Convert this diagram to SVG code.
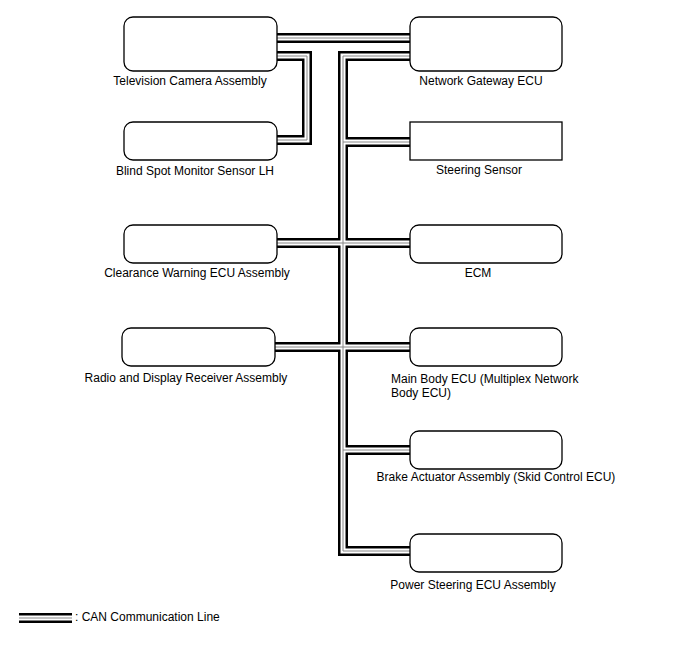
<svg xmlns="http://www.w3.org/2000/svg" width="688" height="658" viewBox="0 0 688 658">
<style>
.box{fill:#fff;stroke:#000;stroke-width:1.3}
.lbl{font-family:"Liberation Sans",Arial,sans-serif;font-size:12px;fill:#000}
.c1{fill:none;stroke:#000;stroke-width:10;stroke-linejoin:miter}
.c2{fill:none;stroke:#fff;stroke-width:5;stroke-linejoin:miter}
.c3{fill:none;stroke:#888;stroke-width:1;stroke-linejoin:miter}
</style>
<defs>
<g id="cables">
<path d="M277 38H410"/>
<path d="M277 56H307V140H277"/>
<path d="M410 56H343V551H410"/>
<path d="M343 142H410"/>
<path d="M277 243H410"/>
<path d="M275 347H410"/>
<path d="M343 450H410"/>
</g>
</defs>
<g id="connectors">
<use href="#cables" class="c1"/>
<use href="#cables" class="c2"/>
<use href="#cables" class="c3"/>
</g>
<g id="tv"><rect class="box" x="124" y="17" width="153" height="54" rx="9"/><text class="lbl" x="190" y="85" text-anchor="middle">Television Camera Assembly</text></g>
<g id="bsm"><rect class="box" x="124" y="122" width="153" height="38" rx="9"/><text class="lbl" x="195" y="175" text-anchor="middle">Blind Spot Monitor Sensor LH</text></g>
<g id="cw"><rect class="box" x="124" y="225" width="153" height="38" rx="9"/><text class="lbl" x="197" y="277" text-anchor="middle">Clearance Warning ECU Assembly</text></g>
<g id="radio"><rect class="box" x="122" y="328" width="153" height="38" rx="9"/><text class="lbl" x="186" y="382" text-anchor="middle">Radio and Display Receiver Assembly</text></g>
<g id="ngw"><rect class="box" x="410" y="17" width="152" height="54" rx="9"/><text class="lbl" x="481" y="85" text-anchor="middle">Network Gateway ECU</text></g>
<g id="ss"><rect class="box" x="410" y="122" width="152" height="38"/><text class="lbl" x="479" y="174" text-anchor="middle">Steering Sensor</text></g>
<g id="ecm"><rect class="box" x="410" y="225" width="152" height="38" rx="9"/><text class="lbl" x="478" y="277" text-anchor="middle">ECM</text></g>
<g id="mb"><rect class="box" x="410" y="328" width="152" height="38" rx="9"/><text class="lbl" x="391" y="383">Main Body ECU (Multiplex Network</text><text class="lbl" x="391" y="397">Body ECU)</text></g>
<g id="brake"><rect class="box" x="410" y="431" width="152" height="38" rx="9"/><text class="lbl" x="496" y="481" text-anchor="middle">Brake Actuator Assembly (Skid Control ECU)</text></g>
<g id="ps"><rect class="box" x="410" y="534" width="152" height="38" rx="9"/><text class="lbl" x="473" y="589" text-anchor="middle">Power Steering ECU Assembly</text></g>
<g id="legend">
<path d="M19 618H72" class="c1"/><path d="M19 618H72" class="c2"/><path d="M19 618H72" class="c3"/>
<text class="lbl" x="75" y="621">: CAN Communication Line</text>
</g>
</svg>
